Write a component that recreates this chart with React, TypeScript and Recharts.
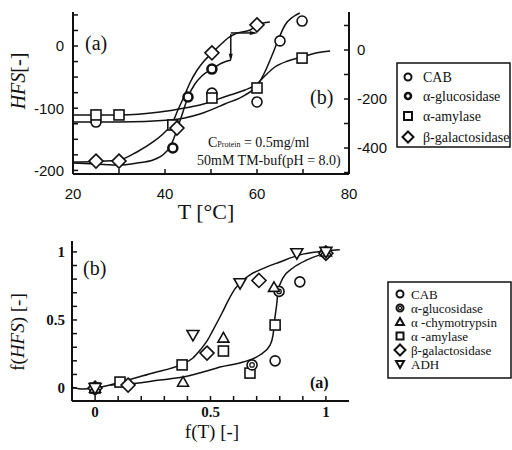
import React from "react";
import { ComposedChart, Line, Scatter, XAxis, YAxis } from "recharts";

// ---------- panel (a): HFS vs T ----------
// left axis series (a)
const galT = [25, 30, 42.6, 50.2, 60];
const galHFS = [-185, -185, -132, -11, 34];
const glucoT = [41.7, 45, 50.2];
const glucoHFS = [-164, -82, -37];
// right axis series (b)
const cabT = [25, 50.2, 60, 65, 69.8];
const cabHFS = [-294, -176, -212, 37, 118];
const amylT = [25, 30, 41.7, 50.2, 60, 69.8];
const amylHFS = [-265, -265, -306, -196, -155, -33];

// fitted curves
const galFitT = [20, 25, 30, 33.9, 37.4, 40, 41.5, 42.8, 44.1, 45.4, 47, 48.5, 50.2, 52, 53.7, 55.7, 58.5, 60, 62.8];
const galFitHFS = [-186.5, -185.7, -183.3, -170.4, -154.3, -138.3, -125.4, -102.9, -82, -59.5, -38.6, -24.1, -11.3, 1.6, 12.9, 20.9, 25.7, 33.8, 38.6];
const glucoFitT = [20, 25, 30, 33.9, 37.4, 40, 41.1, 42.2, 42.8, 43.9, 45, 46.5, 48, 50.2, 52.4, 54.3];
const glucoFitHFS = [-188.1, -189.7, -191.3, -188.1, -183.3, -172, -162.4, -143.1, -130.2, -106.1, -82, -61.1, -48.2, -37, -27.3, -22.5];
const amylFitT = [20, 30.2, 38.9, 44.3, 47.6, 54.1, 57.4, 60, 61.7, 63.9, 66.7, 69.8, 72.8, 75.9];
const amylFitHFS = [-265.3, -265.3, -253.1, -236.7, -224.5, -183.7, -163.3, -138.8, -106.1, -69.4, -44.9, -28.6, -12.2, -4.1];
const cabFitT = [20, 30.2, 41.1, 47.6, 53, 57.4, 60, 61.7, 63.3, 64.6, 66.1, 67.8, 69.3];
const cabFitHFS = [-293.9, -293.9, -285.7, -261.2, -220.4, -183.7, -146.9, -89.8, -20.4, 40.8, 102, 134.7, 151];

// arrows (left axis units)
const arrowDownT = [54.3, 54.3];
const arrowDownHFS = [19, -19];
const arrowRightT = [54.3, 59.3];
const arrowRightHFS = [21, 21];

const tempTicks = [20, 30, 40, 50, 60, 70, 80];
const tempLabels = [20, 40, 60, 80];
const leftTicks = [-200, -175, -150, -125, -100, -75, -50, -25, 0, 25, 50];
const leftLabels = [0, -100, -200];
const rightTicks = [-500, -400, -300, -200, -100, 0, 100];
const rightLabels = [0, -200, -400];

// ---------- panel (b): normalised ----------
const nCabX = [0, 0.78, 0.887, 1];
const nCabY = [0, 0.2, 0.78, 1];
const nGlucoX = [0, 0.68, 0.797, 1];
const nGlucoY = [0, 0.17, 0.71, 0.99];
const nChymoX = [0, 0.381, 0.556, 0.775, 1];
const nChymoY = [0, 0.044, 0.368, 0.74, 1];
const nAmylX = [0, 0.108, 0.377, 0.556, 0.671, 0.78];
const nAmylY = [0, 0.044, 0.17, 0.272, 0.11, 0.463];
const nGalX = [0, 0.143, 0.485, 0.71, 1];
const nGalY = [0, 0.022, 0.257, 0.79, 0.99];
const nAdhX = [0, 0.424, 0.628, 0.874, 1];
const nAdhY = [0, 0.39, 0.77, 0.99, 1];

const upperFitX = [-0.1, -0.052, 0, 0.065, 0.108, 0.251, 0.377, 0.424, 0.455, 0.485, 0.511, 0.55, 0.576, 0.606, 0.628, 0.671, 0.714, 0.801, 0.887, 0.961, 1.06];
const upperFitY = [0.007, -0.007, 0, 0.022, 0.044, 0.11, 0.176, 0.221, 0.279, 0.346, 0.426, 0.551, 0.64, 0.728, 0.772, 0.831, 0.868, 0.926, 0.978, 1.0, 1.015];
const lowerFitX = [0.065, 0.139, 0.281, 0.381, 0.498, 0.541, 0.641, 0.714, 0.758, 0.771, 0.779, 0.788, 0.792, 0.814, 0.857, 0.918, 0.974, 1.004];
const lowerFitY = [0.022, 0.029, 0.059, 0.081, 0.132, 0.154, 0.191, 0.243, 0.316, 0.39, 0.515, 0.632, 0.706, 0.809, 0.882, 0.941, 0.978, 0.993];

const fTicks = [0, 0.1, 0.2, 0.3, 0.4, 0.5, 0.6, 0.7, 0.8, 0.9, 1];
const fLabels = [0, 0.5, 1];

const pts = (xs: number[], ys: number[]) => xs.map((x, i) => ({ x, y: ys[i] }));

const INK = "#111";
const SERIF = "Liberation Serif, serif";

type Kind = "circle" | "dot" | "ring" | "square" | "diamond" | "triUp" | "triDown" | "headDown" | "headRight";

function Marker({ kind, cx, cy, s, sw = 1.6 }: { kind: Kind; cx: number; cy: number; s: number; sw?: number }) {
  switch (kind) {
    case "circle":
      return <circle cx={cx} cy={cy} r={s} fill="#fff" stroke={INK} strokeWidth={sw} />;
    case "dot":
      return <circle cx={cx} cy={cy} r={s} fill="#fff" stroke={INK} strokeWidth={2.6} />;
    case "ring":
      return (
        <g>
          <circle cx={cx} cy={cy} r={s} fill="#fff" stroke={INK} strokeWidth={sw} />
          <circle cx={cx} cy={cy} r={s * 0.45} fill="none" stroke={INK} strokeWidth={1.2} />
        </g>
      );
    case "square":
      return <rect x={cx - s} y={cy - s} width={2 * s} height={2 * s} fill="#fff" stroke={INK} strokeWidth={sw} />;
    case "diamond":
      return <path d={`M${cx},${cy - s}L${cx + s},${cy}L${cx},${cy + s}L${cx - s},${cy}Z`} fill="#fff" stroke={INK} strokeWidth={sw} />;
    case "triUp":
      return <path d={`M${cx},${cy - s}L${cx + s},${cy + s * 0.75}L${cx - s},${cy + s * 0.75}Z`} fill="#fff" stroke={INK} strokeWidth={sw} />;
    case "triDown":
      return <path d={`M${cx},${cy + s}L${cx + s},${cy - s * 0.75}L${cx - s},${cy - s * 0.75}Z`} fill="#fff" stroke={INK} strokeWidth={sw} />;
    case "headDown":
      return <path d={`M${cx},${cy + s}L${cx + s * 0.5},${cy - s}L${cx - s * 0.5},${cy - s}Z`} fill={INK} />;
    case "headRight":
      return <path d={`M${cx + s},${cy}L${cx - s},${cy - s * 0.5}L${cx - s},${cy + s * 0.5}Z`} fill={INK} />;
  }
  return null;
}

const shape = (kind: Kind, s: number) => (p: any) => <Marker kind={kind} cx={p.cx} cy={p.cy} s={s} />;

const axisLine = { stroke: INK, strokeWidth: 2 };
const tickLine = { stroke: INK, strokeWidth: 1.5 };
const blank = () => "";
const only = (list: number[]) => (v: number) => (list.some((l) => Math.abs(l - v) < 1e-9) ? String(v) : "");

const fitLine = (key: string, data: { x: number; y: number }[], yAxisId: string, xAxisId: string, type: "monotone" | "linear" = "monotone") => (
  <Line
    key={key}
    xAxisId={xAxisId}
    yAxisId={yAxisId}
    data={data}
    dataKey="y"
    type={type}
    stroke={INK}
    strokeWidth={1.5}
    dot={false}
    activeDot={false}
    isAnimationActive={false}
  />
);

function TopChart() {
  const sansTick = { fill: INK, fontSize: 15, fontFamily: "Liberation Sans, sans-serif" };
  return (
    <ComposedChart width={512} height={220} margin={{ top: 12, right: 118, bottom: 16, left: 33 }}>
      <XAxis xAxisId="x" type="number" dataKey="x" domain={[20, 80]} ticks={tempTicks} interval={0}
        tickFormatter={only(tempLabels)} tickSize={-5} tickMargin={19} height={30}
        axisLine={axisLine} tickLine={tickLine} tick={sansTick} allowDataOverflow />
      <XAxis xAxisId="top" orientation="top" type="number" dataKey="x" domain={[20, 80]} ticks={tempTicks} interval={0}
        tickFormatter={blank} tickSize={-5} height={0} axisLine={axisLine} tickLine={tickLine} allowDataOverflow />
      <YAxis yAxisId="left" type="number" dataKey="y" domain={[-205.8, 54.7]} ticks={leftTicks} interval={0}
        tickFormatter={only(leftLabels)} tickSize={-5} tickMargin={14} width={40}
        axisLine={axisLine} tickLine={tickLine} tick={sansTick} allowDataOverflow />
      <YAxis yAxisId="right" orientation="right" type="number" dataKey="y" domain={[-506, 155]} ticks={rightTicks} interval={0}
        tickFormatter={only(rightLabels)} tickSize={-5} tickMargin={13} width={45}
        axisLine={axisLine} tickLine={tickLine} tick={{ ...sansTick, textAnchor: "start" }} allowDataOverflow />

      {fitLine("galFit", pts(galFitT, galFitHFS), "left", "x")}
      {fitLine("glucoFit", pts(glucoFitT, glucoFitHFS), "left", "x")}
      {fitLine("amylFit", pts(amylFitT, amylFitHFS), "right", "x")}
      {fitLine("cabFit", pts(cabFitT, cabFitHFS), "right", "x")}
      {fitLine("arrowDown", pts(arrowDownT, arrowDownHFS), "left", "x", "linear")}
      {fitLine("arrowRight", pts(arrowRightT, arrowRightHFS), "left", "x", "linear")}

      <Scatter xAxisId="x" yAxisId="left" data={[{ x: arrowDownT[1], y: arrowDownHFS[1] }]} shape={shape("headDown", 4)} isAnimationActive={false} />
      <Scatter xAxisId="x" yAxisId="left" data={[{ x: arrowRightT[1], y: arrowRightHFS[1] }]} shape={shape("headRight", 4)} isAnimationActive={false} />
      <Scatter xAxisId="x" yAxisId="right" data={pts(cabT, cabHFS)} shape={shape("circle", 5)} isAnimationActive={false} />
      <Scatter xAxisId="x" yAxisId="right" data={pts(amylT, amylHFS)} shape={shape("square", 5)} isAnimationActive={false} />
      <Scatter xAxisId="x" yAxisId="left" data={pts(galT, galHFS)} shape={shape("diamond", 7)} isAnimationActive={false} />
      <Scatter xAxisId="x" yAxisId="left" data={pts(glucoT, glucoHFS)} shape={shape("dot", 4.5)} isAnimationActive={false} />
    </ComposedChart>
  );
}

function BottomChart() {
  const boldTick = { fill: INK, fontSize: 15, fontFamily: SERIF, fontWeight: 700 };
  return (
    <ComposedChart width={512} height={230} margin={{ top: 21, right: 163, bottom: 19, left: 32 }}>
      <XAxis xAxisId="x" type="number" dataKey="x" domain={[-0.1, 1.1]} ticks={fTicks} interval={0}
        tickFormatter={only(fLabels)} tickSize={-5} tickMargin={10} height={30}
        axisLine={axisLine} tickLine={tickLine} tick={boldTick} allowDataOverflow />
      <XAxis xAxisId="top" orientation="top" type="number" dataKey="x" domain={[-0.1, 1.1]} ticks={fTicks} interval={0}
        tickFormatter={blank} tickSize={-5} height={0} axisLine={axisLine} tickLine={tickLine} allowDataOverflow />
      <YAxis yAxisId="y" type="number" dataKey="y" domain={[-0.095, 1.08]} ticks={fTicks} interval={0}
        tickFormatter={only(fLabels)} tickSize={-5} tickMargin={12} width={40}
        axisLine={axisLine} tickLine={tickLine} tick={boldTick} allowDataOverflow />
      <YAxis yAxisId="r" orientation="right" type="number" dataKey="y" domain={[-0.095, 1.08]} ticks={fTicks} interval={0}
        tickFormatter={blank} tickSize={-5} width={0} axisLine={axisLine} tickLine={tickLine} allowDataOverflow />

      {fitLine("upperFit", pts(upperFitX, upperFitY), "y", "x")}
      {fitLine("lowerFit", pts(lowerFitX, lowerFitY), "y", "x")}

      <Scatter xAxisId="x" yAxisId="y" data={pts(nAmylX, nAmylY)} shape={shape("square", 5)} isAnimationActive={false} />
      <Scatter xAxisId="x" yAxisId="y" data={pts(nCabX, nCabY)} shape={shape("circle", 5)} isAnimationActive={false} />
      <Scatter xAxisId="x" yAxisId="y" data={pts(nGlucoX, nGlucoY)} shape={shape("ring", 5)} isAnimationActive={false} />
      <Scatter xAxisId="x" yAxisId="y" data={pts(nGalX, nGalY)} shape={shape("diamond", 7)} isAnimationActive={false} />
      <Scatter xAxisId="x" yAxisId="y" data={pts(nChymoX, nChymoY)} shape={shape("triUp", 5.5)} isAnimationActive={false} />
      <Scatter xAxisId="x" yAxisId="y" data={pts(nAdhX, nAdhY)} shape={shape("triDown", 6)} isAnimationActive={false} />
    </ComposedChart>
  );
}

const topLegend: { kind: Kind; label: string }[] = [
  { kind: "circle", label: "CAB" },
  { kind: "dot", label: "α-glucosidase" },
  { kind: "square", label: "α-amylase" },
  { kind: "diamond", label: "β-galactosidase" },
];
const bottomLegend: { kind: Kind; label: string }[] = [
  { kind: "circle", label: "CAB" },
  { kind: "ring", label: "α-glucosidase" },
  { kind: "triUp", label: "α -chymotrypsin" },
  { kind: "square", label: "α -amylase" },
  { kind: "diamond", label: "β-galactosidase" },
  { kind: "triDown", label: "ADH" },
];

function Overlay() {
  const topRows = [77, 96, 116, 137];
  const botRows = [294, 308, 322, 336, 350, 364];
  const topSize = [3.5, 3, 4, 5.5];
  const botSize = [3.5, 3.5, 4, 3.5, 5.5, 4];
  return (
    <svg width={512} height={450} style={{ position: "absolute", left: 0, top: 0, pointerEvents: "none" }}>
      <g fontFamily={SERIF} fill={INK}>
        {/* panel (a) texts */}
        <text transform="translate(25,81) rotate(-90)" textAnchor="middle" fontSize={20}>
          <tspan fontStyle="italic">HFS</tspan>[-]
        </text>
        <text x={206} y={219} textAnchor="middle" fontSize={22}>T [°C]</text>
        <text x={85} y={50} fontSize={20}>(a)</text>
        <text x={310} y={104} fontSize={20}>(b)</text>
        <text x={208} y={147} fontSize={14}>
          C<tspan fontSize={8}>Protein</tspan> = 0.5mg/ml
        </text>
        <text x={197} y={165} fontSize={14}>50mM TM-buf(pH = 8.0)</text>

        {/* panel (b) texts */}
        <text transform="translate(24,332) rotate(-90)" textAnchor="middle" fontSize={19}>
          f(<tspan fontStyle="italic">HFS</tspan>) [-]
        </text>
        <text x={212} y={438} textAnchor="middle" fontSize={19}>f(T) [-]</text>
        <text x={83} y={275} fontSize={20}>(b)</text>
        <text x={310} y={388} fontSize={16} fontWeight={700}>(a)</text>

        {/* legends */}
        <rect x={397} y={63} width={113} height={84} fill="#fff" stroke={INK} strokeWidth={1.5} />
        {topLegend.map((item, i) => (
          <g key={item.label}>
            <Marker kind={item.kind} cx={408} cy={topRows[i]} s={topSize[i]} sw={2} />
            <text x={423} y={topRows[i] + 5} fontSize={14}>{item.label}</text>
          </g>
        ))}
        <rect x={388} y={282} width={123} height={96} fill="#fff" stroke={INK} strokeWidth={1.5} />
        {bottomLegend.map((item, i) => (
          <g key={item.label}>
            <Marker kind={item.kind} cx={400} cy={botRows[i]} s={botSize[i]} sw={2} />
            <text x={411} y={botRows[i] + 4.5} fontSize={13}>{item.label}</text>
          </g>
        ))}
      </g>
    </svg>
  );
}

export default function App() {
  return (
    <div style={{ position: "absolute", left: 0, top: 0, width: 512, height: 450, background: "#fff" }}>
      <div style={{ position: "absolute", left: 0, top: 0 }}>
        <TopChart />
      </div>
      <div style={{ position: "absolute", left: 0, top: 220 }}>
        <BottomChart />
      </div>
      <Overlay />
    </div>
  );
}
